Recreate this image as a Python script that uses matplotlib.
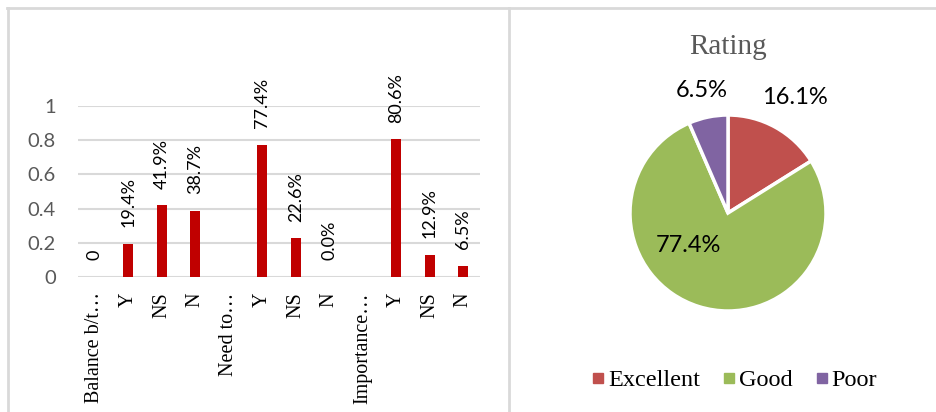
import numpy as np
import matplotlib.pyplot as plt
from matplotlib.lines import Line2D

# bar chart data
categories = ["Balance b/t…", "Y", "NS", "N", "Need to…", "Y", "NS", "N",
              "Importance…", "Y", "NS", "N"]
values = [0, 0.194, 0.419, 0.387, 0, 0.774, 0.226, 0.0, 0, 0.806, 0.129, 0.065]
bar_labels = ["0", "19.4%", "41.9%", "38.7%", "", "77.4%", "22.6%", "0.0%",
              "", "80.6%", "12.9%", "6.5%"]
yticks = [0, 0.2, 0.4, 0.6, 0.8, 1]

# pie data
rating_names = ["Excellent", "Good", "Poor"]
rating_share = [0.161, 0.774, 0.065]
rating_colors = ["#C0504D", "#9BBB59", "#8064A2"]

W, H = 936, 412
fig = plt.figure(figsize=(W / 100, H / 100), dpi=100)

# --- bar chart ---
ax = fig.add_axes([78 / W, 1 - 277 / H, 402 / W, 171 / H])
x = np.arange(len(categories))
ax.bar(x, values, width=0.3, color="#C00000", zorder=3)
for xi, v, lab in zip(x, values, bar_labels):
    if lab:
        ax.annotate(lab, (xi, v), xytext=(0, 12), textcoords="offset points",
                    rotation=90, ha="center", va="bottom", fontsize=13,
                    family="Lato", color="black", annotation_clip=False)
ax.set_xlim(-0.5, len(categories) - 0.5)
ax.set_ylim(0, 1)
ax.set_yticks(yticks)
ax.set_yticklabels([f"{t:g}" for t in yticks], family="Lato", fontsize=14.5,
                   color="#595959")
ax.set_xticks(x)
ax.set_xticklabels(categories, rotation=90, family="Liberation Serif",
                   fontsize=14.5)
ax.tick_params(length=0)
ax.tick_params(axis="x", pad=11)
ax.tick_params(axis="y", pad=16)
ax.grid(axis="y", color="#D9D9D9", linewidth=1.5, zorder=0)
for s in ax.spines.values():
    s.set_visible(False)

# --- pie chart ---
R = 98
pax = fig.add_axes([(728 - R) / W, 1 - (213 + R) / H, 2 * R / W, 2 * R / H])
wedges, _ = pax.pie(rating_share, colors=rating_colors, startangle=90,
                    counterclock=False,
                    wedgeprops=dict(edgecolor="white", linewidth=2.5))
pax.set_xlim(-1, 1)
pax.set_ylim(-1, 1)
# label placement (distance from centre, angle in degrees)
label_place = [(1.36, 60), (0.52, 219), (1.28, 102)]
for share, (d, ang) in zip(rating_share, label_place):
    pax.text(d * np.cos(np.radians(ang)), d * np.sin(np.radians(ang)),
             f"{share * 100:.1f}%", ha="center", va="center", fontsize=17,
             family="Lato", color="black", clip_on=False)

fig.text(728 / W, 1 - 47 / H, "Rating", ha="center", va="center",
         family="Liberation Serif", fontsize=21, color="#595959")

handles = [Line2D([], [], marker="s", linestyle="", markersize=7, color=c)
           for c in rating_colors]
fig.legend(handles, rating_names, loc="center", bbox_to_anchor=(735 / W, 1 - 380 / H),
           ncol=3, frameon=False, handlelength=0.4, handletextpad=0.2,
           columnspacing=1.0, prop=dict(family="Liberation Serif", size=17.5))

# chart area borders
border = "#D9D9D9"
fig.add_artist(Line2D([7 / W, 1], [1 - 8 / H] * 2, color=border, linewidth=2))
fig.add_artist(Line2D([8 / W] * 2, [0, 1 - 8 / H], color=border, linewidth=2))
fig.add_artist(Line2D([509.5 / W] * 2, [0, 1 - 8 / H], color=border, linewidth=2))

fig.savefig("out.png", dpi=100, facecolor="white")
